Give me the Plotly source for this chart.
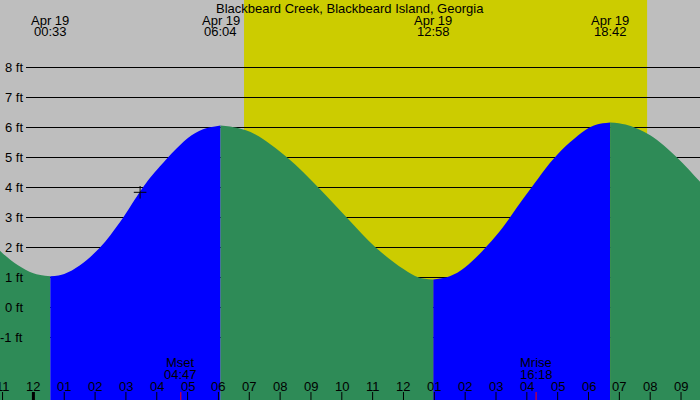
import plotly.graph_objects as go

# ---------------- data (hours after midnight Apr 19, heights in ft) ----------------
title_text = "Blackbeard Creek, Blackbeard Island, Georgia"

# extremes
ext_times = [0.55, 6.067, 12.967, 18.7]
ext_dates = ["Apr 19", "Apr 19", "Apr 19", "Apr 19"]
ext_labels = ["00:33", "06:04", "12:58", "18:42"]

# tide curve readings, split into falling (green) and rising (blue) stretches
seg0_t = [-2.0, -1.5, -1.0, -0.5, 0.0, 0.55]
seg0_h = [2.94, 2.34, 1.81, 1.41, 1.14, 1.04]
seg1_t = [0.55, 1.0, 1.5, 2.16, 2.81, 3.55, 4.0, 5.0, 5.5, 6.067]
seg1_h = [1.04, 1.12, 1.40, 2.0, 2.85, 4.0, 4.58, 5.64, 5.94, 6.07]
seg2_t = [6.067, 6.6, 7.2, 8.23, 9.24, 10.16, 11.1, 12.0, 12.5, 12.967]
seg2_h = [6.07, 5.99, 5.77, 5.0, 4.0, 3.0, 2.0, 1.28, 1.0, 0.93]
seg3_t = [12.967, 13.5, 14.0, 15.0, 16.0, 17.0, 18.0, 18.3, 18.7]
seg3_h = [0.93, 1.04, 1.34, 2.39, 3.79, 5.11, 5.98, 6.11, 6.17]
seg4_t = [18.7, 19.2, 20.0, 20.87, 21.61, 22.2]
seg4_h = [6.17, 6.10, 5.74, 5.0, 4.2, 3.6]

sunrise, sunset = 6.83, 19.90

moon_times = [4.78, 16.30]
moon_names = ["Mset", "Mrise"]
moon_labels = ["04:47", "16:18"]

now_time = [3.46]
now_height = [3.84]

height_levels = [8, 7, 6, 5, 4, 3, 2, 1, 0, -1]
hour_positions = list(range(-1, 22))
hour_labels = ["11", "12", "01", "02", "03", "04", "05", "06", "07", "08", "09", "10",
               "11", "12", "01", "02", "03", "04", "05", "06", "07", "08", "09"]

# ---------------- styling ----------------
W, H = 700, 400
X_RANGE = [-1.083, 21.615]
Y_TOP = 10.25
Y_RANGE = [Y_TOP - H / 30.0, Y_TOP]
BOTTOM = -4.0
GREY = "#bebebe"
YELLOW = "#cccc00"
GREEN = "#2e8b57"
BLUE = "#0000ff"
FONT = dict(family="Liberation Sans, Arial, sans-serif", size=13, color="#000000")

fig = go.Figure()

segments = [(seg0_t, seg0_h, GREEN), (seg1_t, seg1_h, BLUE), (seg2_t, seg2_h, GREEN),
            (seg3_t, seg3_h, BLUE), (seg4_t, seg4_h, GREEN)]
for ts, hs, col in segments:
    fig.add_trace(go.Scatter(x=[ts[0], ts[-1]], y=[BOTTOM, BOTTOM], mode="lines",
                             line=dict(width=0), hoverinfo="skip", showlegend=False))
    fig.add_trace(go.Scatter(x=ts, y=hs, mode="lines", fill="tonexty", fillcolor=col,
                             line=dict(width=0, shape="spline", color=col),
                             hoverinfo="skip", showlegend=False))

fig.add_trace(go.Scatter(x=now_time, y=now_height, mode="markers",
                         marker=dict(symbol="cross-thin", size=9, color="#000000",
                                     line=dict(width=1, color="#000000")),
                         hoverinfo="skip", showlegend=False))

shapes = []
shapes.append(dict(type="rect", xref="x", yref="paper", x0=sunrise, x1=sunset, y0=0, y1=1,
                   fillcolor=YELLOW, line=dict(width=0), layer="below"))
for lv in height_levels:
    shapes.append(dict(type="line", xref="paper", yref="y", x0=26 / W, x1=1, y0=lv, y1=lv,
                       line=dict(color="#000000", width=1), layer="below"))
for hp in hour_positions:
    shapes.append(dict(type="line", xref="x", yref="paper", x0=hp, x1=hp, y0=0, y1=8 / H,
                       line=dict(color="#000000", width=3 if hp == 0 else 1), layer="above"))
for mt in moon_times:
    shapes.append(dict(type="line", xref="x", yref="paper", x0=mt, x1=mt, y0=0, y1=8 / H,
                       line=dict(color="#ff0000", width=1), layer="above"))

ann = []
ann.append(dict(text=title_text, xref="paper", yref="paper", x=0.5, y=(H - 8) / H,
                xanchor="center", yanchor="middle", showarrow=False, font=FONT))
for t, d, lab in zip(ext_times, ext_dates, ext_labels):
    ann.append(dict(text=d, xref="x", yref="paper", x=t, y=(H - 20) / H,
                    xanchor="center", yanchor="middle", showarrow=False, font=FONT))
    ann.append(dict(text=lab, xref="x", yref="paper", x=t, y=(H - 32) / H,
                    xanchor="center", yanchor="middle", showarrow=False, font=FONT))
for lv in height_levels:
    ann.append(dict(text=f"{lv} ft", xref="paper", yref="y", x=25 / W, y=lv,
                    xanchor="right", yanchor="middle", showarrow=False, font=FONT))
for hp, hl in zip(hour_positions, hour_labels):
    ann.append(dict(text=hl, xref="x", yref="paper", x=hp, y=(H - 386) / H,
                    xanchor="center", yanchor="middle", showarrow=False, font=FONT))
for mt, mn, ml in zip(moon_times, moon_names, moon_labels):
    ann.append(dict(text=mn, xref="x", yref="paper", x=mt, y=(H - 362) / H,
                    xanchor="center", yanchor="middle", showarrow=False, font=FONT))
    ann.append(dict(text=ml, xref="x", yref="paper", x=mt, y=(H - 374) / H,
                    xanchor="center", yanchor="middle", showarrow=False, font=FONT))

fig.update_layout(
    width=W, height=H, margin=dict(l=0, r=0, t=0, b=0, pad=0),
    paper_bgcolor=GREY, plot_bgcolor=GREY,
    shapes=shapes, annotations=ann, showlegend=False, font=FONT,
    xaxis=dict(range=X_RANGE, showgrid=False, zeroline=False, showticklabels=False,
               ticks="", showline=False, fixedrange=True),
    yaxis=dict(range=Y_RANGE, showgrid=False, zeroline=False, showticklabels=False,
               ticks="", showline=False, fixedrange=True),
)

fig.write_html("out.html", config={"displayModeBar": False},
               post_script="document.body.style.margin='0';document.body.style.overflow='hidden';")
